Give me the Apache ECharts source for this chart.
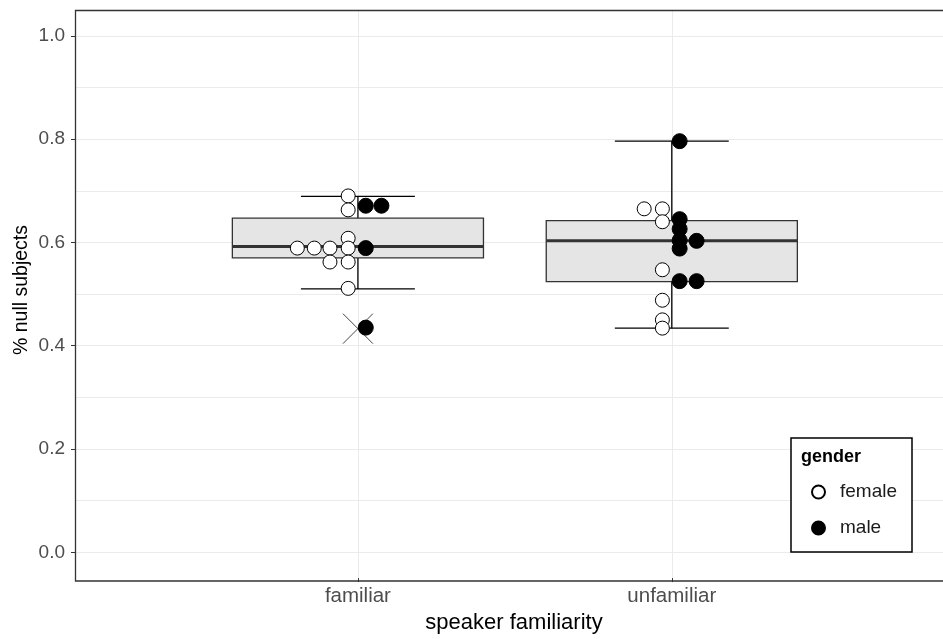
<!DOCTYPE html>
<html>
<head>
<meta charset="utf-8">
<script src="https://cdn.jsdelivr.net/npm/echarts@6/dist/echarts.min.js"></script>
<style>html,body{margin:0;padding:0;background:#fff;overflow:hidden}#c{width:943px;height:639px}</style>
</head>
<body>
<div id="c"></div>
<script>
// ---- data ----
var categories = ['familiar', 'unfamiliar'];
// box statistics per category
var boxQ1 = [0.570, 0.524];
var boxMedian = [0.592, 0.603];
var boxQ3 = [0.647, 0.642];
var whiskerLow = [0.510, 0.434];
var whiskerHigh = [0.689, 0.796];
var outlierCategory = [0];
var outlierValue = [0.433];
// points (value and horizontal dodge offset)
var familiarFemale = [0.690, 0.663, 0.608, 0.589, 0.589, 0.589, 0.589, 0.562, 0.562, 0.511];
var familiarFemaleOffset = [-0.031, -0.031, -0.031, -0.193, -0.139, -0.089, -0.031, -0.089, -0.031, -0.031];
var familiarMale = [0.671, 0.671, 0.589, 0.435];
var familiarMaleOffset = [0.025, 0.075, 0.025, 0.025];
var unfamiliarFemale = [0.665, 0.665, 0.640, 0.547, 0.488, 0.450, 0.434];
var unfamiliarFemaleOffset = [-0.088, -0.030, -0.030, -0.030, -0.030, -0.030, -0.030];
var unfamiliarMale = [0.796, 0.645, 0.626, 0.604, 0.603, 0.588, 0.525, 0.525];
var unfamiliarMaleOffset = [0.025, 0.025, 0.025, 0.025, 0.079, 0.025, 0.025, 0.079];
var yTickValues = [0, 0.2, 0.4, 0.6, 0.8, 1.0];
var yGridValues = [0, 0.1, 0.2, 0.3, 0.4, 0.5, 0.6, 0.7, 0.8, 0.9, 1.0];

// ---- build ----
function pts(vals, offs, catIndex) {
  return vals.map(function (v, i) { return [catIndex + 1 + offs[i], v]; });
}
var femaleData = pts(familiarFemale, familiarFemaleOffset, 0).concat(pts(unfamiliarFemale, unfamiliarFemaleOffset, 1));
var maleData = pts(familiarMale, familiarMaleOffset, 0).concat(pts(unfamiliarMale, unfamiliarMaleOffset, 1));
var boxData = categories.map(function (c, i) {
  return [i + 1, boxQ1[i], boxMedian[i], boxQ3[i], whiskerLow[i], whiskerHigh[i]];
});
var outlierData = outlierCategory.map(function (c, i) { return [c + 1, outlierValue[i]]; });

var FONT = '"Liberation Sans", Arial, sans-serif';
var chart = echarts.init(document.getElementById('c'), null, {renderer: 'canvas'});
chart.setOption({
  animation: false,
  backgroundColor: '#fff',
  grid: {left: 75, right: 0, top: 10, bottom: 58, show: false},
  xAxis: {
    type: 'value', min: 0.0987, max: 2.864,
    axisLine: {show: false, onZero: false},
    axisTick: {show: true, customValues: [1, 2], length: 4, lineStyle: {color: '#333', width: 1}},
    axisLabel: {customValues: [1, 2], margin: 8, color: '#4d4d4d', fontSize: 20.5, fontFamily: FONT,
      formatter: function (v) { return categories[Math.round(v) - 1] || ''; }},
    splitLine: {show: true, lineStyle: {color: '#ebebeb', width: 1}},
    name: 'speaker familiarity', nameLocation: 'middle', nameGap: 33,
    nameTextStyle: {color: '#000', fontSize: 22, fontFamily: FONT, padding: [0, 0, 0, 10]}
  },
  yAxis: [{
    type: 'value', min: -0.05, max: 1.05,
    axisLine: {show: false, onZero: false},
    axisTick: {show: true, customValues: yTickValues, length: 4, lineStyle: {color: '#333', width: 1}},
    axisLabel: {customValues: yTickValues, margin: 10, color: '#4d4d4d', fontSize: 19, fontFamily: FONT,
      formatter: function (v) { return v.toFixed(1); }},
    splitLine: {show: true, lineStyle: {color: '#ebebeb', width: 1}}
  }, {
    type: 'value', min: -0.05, max: 1.05, position: 'left',
    axisLine: {show: false, onZero: false},
    axisTick: {show: false, customValues: yGridValues},
    axisLabel: {show: false},
    splitLine: {show: true, lineStyle: {color: '#ebebeb', width: 1}}
  }],
  legend: {
    data: ['female', 'male'], orient: 'vertical', left: 806, top: 477,
    itemWidth: 13, itemHeight: 13, itemGap: 16, z: 10,
    selectedMode: false,
    textStyle: {fontSize: 19, fontFamily: FONT, color: '#1a1a1a', lineHeight: 20, padding: [0, 0, 0, 10]}
  },
  graphic: [
    {type: 'rect', z: 6, silent: true, shape: {x: 75.5, y: 10.5, width: 890, height: 570.5}, style: {fill: 'none', stroke: '#333', lineWidth: 1.3}},
    {type: 'rect', z: 8, shape: {x: 791, y: 438, width: 121, height: 114}, style: {fill: '#fff', stroke: '#000', lineWidth: 1.5}},
    {type: 'text', z: 11, x: 801, y: 457, style: {text: 'gender', font: 'bold 18px ' + FONT, fill: '#000', textVerticalAlign: 'middle'}},
    {type: 'text', z: 11, x: 22, y: 290, rotation: Math.PI / 2, style: {text: '% null subjects', font: '19.5px ' + FONT, fill: '#000', textAlign: 'center', textVerticalAlign: 'middle'}}
  ],
  series: [
    {
      type: 'custom', name: 'box', z: 2, silent: true,
      data: boxData,
      renderItem: function (params, api) {
        var x = api.value(0);
        var c = api.coord([x, api.value(2)]);
        var q1 = api.coord([x, api.value(1)]);
        var q3 = api.coord([x, api.value(3)]);
        var lo = api.coord([x, api.value(4)]);
        var hi = api.coord([x, api.value(5)]);
        var bw = api.size([0.8, 0])[0];
        var cw = api.size([0.363, 0])[0];
        var line = {stroke: '#000', lineWidth: 1.3};
        return {type: 'group', children: [
          {type: 'line', shape: {x1: c[0], y1: lo[1], x2: c[0], y2: hi[1]}, style: line},
          {type: 'line', shape: {x1: c[0] - cw / 2, y1: lo[1], x2: c[0] + cw / 2, y2: lo[1]}, style: line},
          {type: 'line', shape: {x1: c[0] - cw / 2, y1: hi[1], x2: c[0] + cw / 2, y2: hi[1]}, style: line},
          {type: 'rect', shape: {x: c[0] - bw / 2, y: q3[1], width: bw, height: q1[1] - q3[1]}, style: {fill: '#e5e5e5', stroke: '#333', lineWidth: 1.3}},
          {type: 'line', shape: {x1: c[0] - bw / 2, y1: c[1], x2: c[0] + bw / 2, y2: c[1]}, style: {stroke: '#333', lineWidth: 3}}
        ]};
      }
    },
    {
      type: 'custom', name: 'outlier', z: 2, silent: true,
      data: outlierData,
      renderItem: function (params, api) {
        var p = api.coord([api.value(0), api.value(1)]);
        var h = 15;
        var st = {stroke: '#444', lineWidth: 1};
        return {type: 'group', children: [
          {type: 'line', shape: {x1: p[0] - h, y1: p[1] - h, x2: p[0] + h, y2: p[1] + h}, style: st},
          {type: 'line', shape: {x1: p[0] - h, y1: p[1] + h, x2: p[0] + h, y2: p[1] - h}, style: st}
        ]};
      }
    },
    {
      type: 'scatter', name: 'female', z: 3, data: femaleData, symbol: 'circle', symbolSize: 14,
      itemStyle: {color: '#fff', borderColor: '#000', borderWidth: 1, opacity: 1},
      emphasis: {disabled: true}
    },
    {
      type: 'scatter', name: 'male', z: 3, data: maleData, symbol: 'circle', symbolSize: 15,
      itemStyle: {color: '#000', borderColor: '#000', borderWidth: 1, opacity: 1},
      emphasis: {disabled: true}
    }
  ]
});
</script>
</body>
</html>
